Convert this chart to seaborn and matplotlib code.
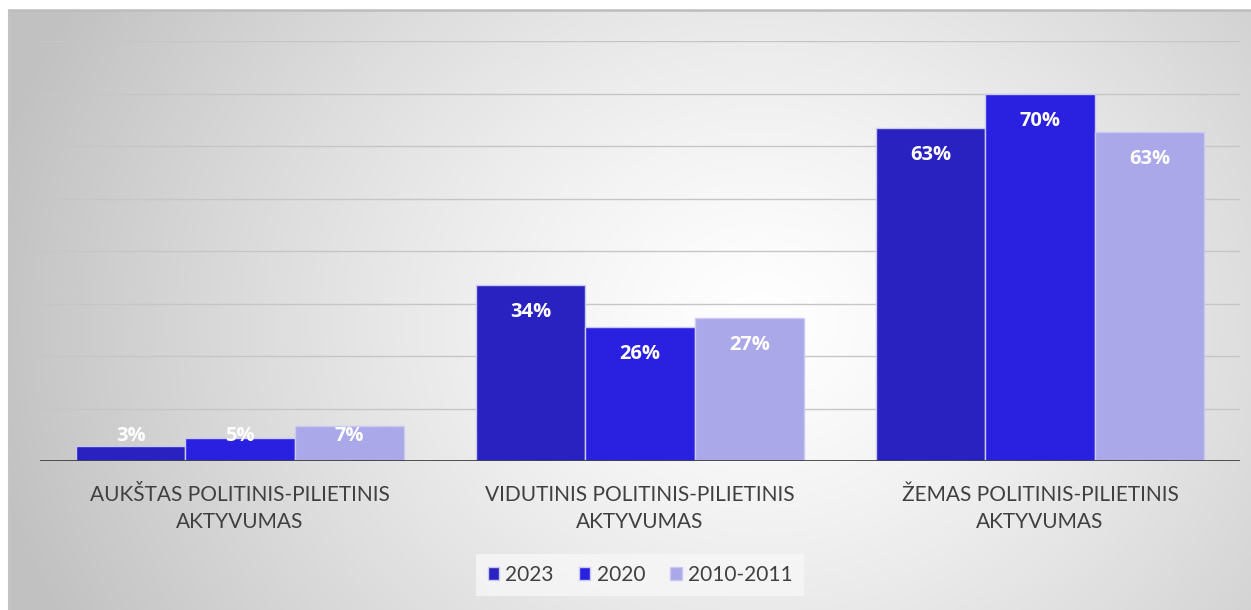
import numpy as np
import pandas as pd
import matplotlib
matplotlib.use("Agg")
import matplotlib.pyplot as plt
import seaborn as sns

# data
categories = ["AUKŠTAS POLITINIS-PILIETINIS\nAKTYVUMAS",
              "VIDUTINIS POLITINIS-PILIETINIS\nAKTYVUMAS",
              "ŽEMAS POLITINIS-PILIETINIS\nAKTYVUMAS"]
years = ["2023", "2020", "2010-2011"]
v2023 = [2.9, 33.5, 63.4]
v2020 = [4.4, 25.5, 69.9]
v2010 = [6.7, 27.2, 62.7]
labels2023 = ["3%", "34%", "63%"]
labels2020 = ["5%", "26%", "70%"]
labels2010 = ["7%", "27%", "63%"]
colors = ["#2a22c0", "#2a20e0", "#aaa8e8"]

rows = []
for yr, vals in zip(years, [v2023, v2020, v2010]):
    for c, v in zip(categories, vals):
        rows.append({"cat": c, "year": yr, "val": v})
df = pd.DataFrame(rows)

sns.set_style("white")
plt.rcParams["font.family"] = ["Lato", "DejaVu Sans"]

W, H = 1251, 610
fig = plt.figure(figsize=(W / 100, H / 100), dpi=100)
fig.patch.set_facecolor("white")

# radial grey background
bg = fig.add_axes([9 / W, 0, 1 - 9 / W, 600 / H])
bg.set_zorder(0)
xx, yy = np.meshgrid(np.arange(9, W), np.arange(10, H))
r = np.sqrt(((xx - 760) / 1.0) ** 2 + ((yy - 320) / 0.85) ** 2)
r = np.clip(r / 780, 0, 1)
g = 1 - 0.24 * r ** 1.3
bg.imshow(np.dstack([g, g, g]), aspect="auto", extent=[0, 1, 0, 1])
bg.axis("off")
fig.add_artist(plt.Line2D([9 / W, 1], [600 / H, 600 / H], color="#bdbdbd", lw=1.8))
fig.add_artist(plt.Line2D([9 / W, 9 / W], [0, 600 / H], color="#c4c4c4", lw=1.5))

ax = fig.add_axes([40 / W, (H - 461) / H, 1200 / W, 420 / H])
ax.set_zorder(1)
ax.patch.set_alpha(0)

sns.barplot(data=df, x="cat", y="val", hue="year", hue_order=years,
            palette=colors, saturation=1, width=0.82, edgecolor="#c9c9f2",
            linewidth=1, ax=ax, zorder=3)

ax.set_ylim(0, 80)
ax.set_xlim(-0.5, 2.5)
for yv in range(10, 90, 10):
    ax.axhline(yv, color="#c6c6c6", lw=1, zorder=1)
ax.axhline(0, color="#404040", lw=2, zorder=4)

for container, labs in zip(ax.containers, [labels2023, labels2020, labels2010]):
    for bar, lab in zip(container, labs):
        h = bar.get_height()
        ax.text(bar.get_x() + bar.get_width() / 2, max(h - 5.2, 4.8), lab,
                ha="center", va="center", color="white", fontsize=14.5,
                fontweight="bold", family=["Open Sans", "DejaVu Sans"], zorder=5)

for s in ax.spines.values():
    s.set_visible(False)
ax.set_yticks([])
ax.set_xlabel("")
ax.set_ylabel("")
ax.set_xticks(range(len(categories)))
ax.set_xticklabels(categories, linespacing=1.45)
ax.tick_params(axis="x", length=0, pad=17, labelsize=15, labelcolor="#404040")

handles, lbls = ax.get_legend_handles_labels()
ax.legend_.remove()
leg = fig.legend(handles, lbls, loc="center", bbox_to_anchor=(640 / W, 35 / H),
                 ncol=3, fontsize=15, frameon=True, facecolor="#f7f7f7",
                 edgecolor="none", fancybox=False, handlelength=0.55,
                 handleheight=0.55, handletextpad=0.3, columnspacing=1.2,
                 borderpad=0.55)
for t in leg.get_texts():
    t.set_color("#404040")

fig.savefig("out.png", dpi=100)
